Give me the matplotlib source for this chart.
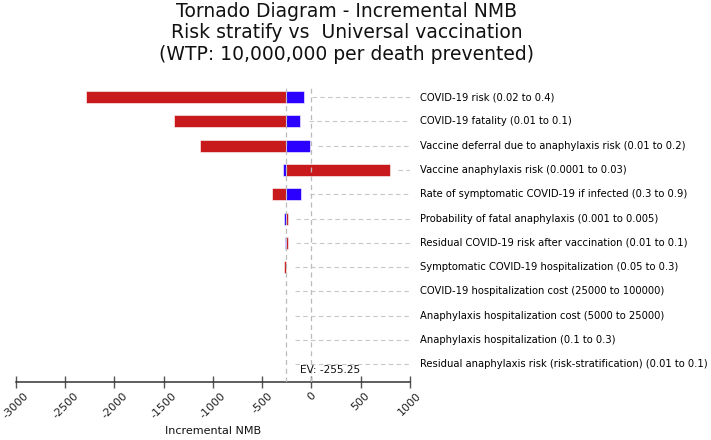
import numpy as np
import matplotlib
matplotlib.use("Agg")
import matplotlib.pyplot as plt

# parameters, top to bottom
labels = [
    "COVID-19 risk (0.02 to 0.4)",
    "COVID-19 fatality (0.01 to 0.1)",
    "Vaccine deferral due to anaphylaxis risk (0.01 to 0.2)",
    "Vaccine anaphylaxis risk (0.0001 to 0.03)",
    "Rate of symptomatic COVID-19 if infected (0.3 to 0.9)",
    "Probability of fatal anaphylaxis (0.001 to 0.005)",
    "Residual COVID-19 risk after vaccination (0.01 to 0.1)",
    "Symptomatic COVID-19 hospitalization (0.05 to 0.3)",
    "COVID-19 hospitalization cost (25000 to 100000)",
    "Anaphylaxis hospitalization cost (5000 to 25000)",
    "Anaphylaxis hospitalization (0.1 to 0.3)",
    "Residual anaphylaxis risk (risk-stratification) (0.01 to 0.1)",
]
ev = -255.25
red_vals = [-2294, -1398, -1134, 795, -403, -240, -240, -281,
            -255.25, -255.25, -255.25, -255.25]
blue_vals = [-78, -112, -17, -291, -102, -281, -268, -255.25,
             -255.25, -255.25, -255.25, -255.25]
xticks = [-3000, -2500, -2000, -1500, -1000, -500, 0, 500, 1000]

RED = "#c8191d"
BLUE = "#2b00ff"
GRID = "#c8c8c8"

fig = plt.figure(figsize=(7.11, 4.40), dpi=100)
ax = fig.add_axes([0.0225, 0.1311, 0.554, 0.6757])

y = np.arange(len(labels))
h = 0.49
for i in range(len(labels)):
    r, b = red_vals[i], blue_vals[i]
    if r != ev:
        ax.barh(y[i], r - ev, left=ev, height=h, color=RED,
                edgecolor="white", linewidth=0.4, zorder=2)
    if b != ev:
        ax.barh(y[i], b - ev, left=ev, height=h, color=BLUE,
                edgecolor="white", linewidth=0.4, zorder=2)
    start = max(r, b, ev) + 85
    ax.plot([start, 1000], [y[i], y[i]], color=GRID, lw=0.8,
            ls=(0, (4, 3)), zorder=1)
    ax.text(1.025, y[i], labels[i], transform=ax.get_yaxis_transform(),
            ha="left", va="center", fontsize=7.2, color="#000000")

ax.axvline(ev, color="#bbbbbb", lw=0.9, ls=(0, (4, 3)), zorder=3)
ax.axvline(0, color="#bbbbbb", lw=0.9, ls=(0, (4, 3)), zorder=3)
ax.annotate(f"EV: {ev:.2f}", xy=(ev, 11.25), xytext=(10, 0),
            textcoords="offset points", ha="left", va="center",
            fontsize=7.6, color="#111111")

ax.set_xlim(-3000, 1000)
ax.set_ylim(11.74, -0.5)
ax.set_yticks([])
for s in ["top", "right", "left"]:
    ax.spines[s].set_visible(False)
ax.spines["bottom"].set_color("#333333")
ax.spines["bottom"].set_linewidth(1.1)
ax.set_xticks(xticks)
ax.set_xticklabels([str(t) for t in xticks], rotation=45, ha="center",
                   fontsize=8, color="#222222")
ax.tick_params(axis="x", direction="inout", length=8, width=1,
               color="#555555", pad=2)
ax.set_xlabel("Incremental NMB", fontsize=8, color="#111111", labelpad=4)

fig.text(0.488, 0.995,
         "Tornado Diagram - Incremental NMB\nRisk stratify vs  Universal vaccination\n(WTP: 10,000,000 per death prevented)",
         ha="center", va="top", fontsize=13.5, linespacing=1.15, color="#111111")

fig.savefig("out.png", dpi=100)
